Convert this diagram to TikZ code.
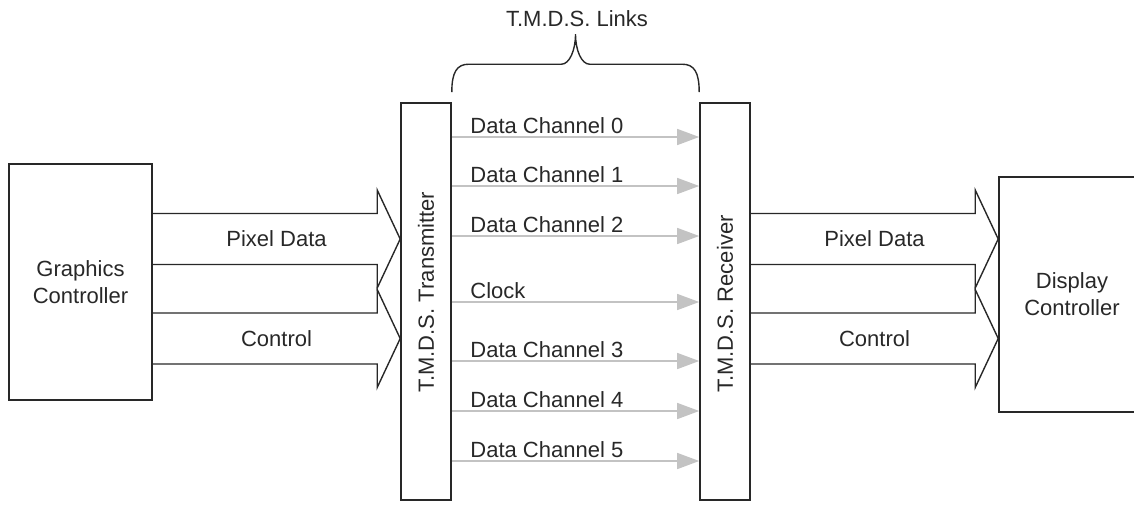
\documentclass[tikz,border=0pt]{standalone}
\usepackage{fontspec}
\setmainfont{Liberation Sans}
\usetikzlibrary{calc,arrows.meta}

\definecolor{ink}{RGB}{40,40,40}
\definecolor{chgray}{RGB}{195,195,195}

\tikzset{
  box/.style={draw=ink, line width=0.8pt, inner sep=0pt, text=ink, font=\fontsize{11}{13.5}\selectfont},
  fat/.style={draw=ink, line width=0.7pt},
  chan/.style={draw=chgray, line width=0.7pt, -{Triangle[length=11pt,width=8pt]}},
  lbl/.style={text=ink, inner sep=0pt, font=\fontsize{11}{13.5}\selectfont},
}

\begin{document}
\begin{tikzpicture}[x=0.5pt, y=-0.5pt]
  \useasboundingbox (0,0) rectangle (1134,504);

  % Blocks
  \node[box, align=center, minimum width=71.5pt, minimum height=118pt] (gc) at (80.5,282) {Graphics\\Controller};
  \node[box, align=center, minimum width=73pt, minimum height=117.5pt] (dc) at (1072,294.5) {Display\\Controller};
  \node[box, minimum width=25pt, minimum height=198.5pt] (tx) at (426,301.5) {};
  \node[box, minimum width=25pt, minimum height=198.5pt] (rx) at (725,301.5) {};
  \node[lbl, rotate=90, anchor=west] (txlbl) at (tx.center |- 0,393) {T.M.D.S. Transmitter};
  \node[lbl, rotate=90, anchor=west] (rxlbl) at (rx.center |- 0,393) {T.M.D.S. Receiver};

  % Pixel data and control buses
  \foreach \from/\to in {gc/tx, rx/dc}{
    \foreach \ym/\txt [count=\i] in {239/Pixel Data, 338.5/Control}{
      \coordinate (tip) at (\to.west |- 0,\ym);
      \coordinate (tail) at (\from.east |- 0,\ym);
      \draw[fat] ($(tail)+(0,-25.5)$) -- ($(tip)+(-23,-25.5)$) -- ($(tip)+(-23,-49)$) -- (tip)
        -- ($(tip)+(-23,49)$) -- ($(tip)+(-23,25.5)$) -- ($(tail)+(0,25.5)$);
      \node[lbl] (\from\i) at ($(tail)!0.5!(tip)$) {\txt};
    }
  }

  % T.M.D.S. channels
  \foreach \y/\txt [count=\i] in {137/Data Channel 0, 186/Data Channel 1, 236/Data Channel 2,
      302/Clock, 361/Data Channel 3, 411/Data Channel 4, 461/Data Channel 5}{
    \draw[chan] (tx.east |- 0,\y) -- (rx.west |- 0,\y);
    \node[lbl, anchor=base west] (ch\i) at (470,\y-4) {\txt};
  }

  % Brace
  \coordinate (bl) at ($(tx.north east)+(0,-10)$);
  \coordinate (br) at ($(rx.north west)+(0,-10)$);
  \coordinate (bt) at ($(bl)!0.5!(br)+(0,-58)$);
  \draw[fat] (bl) .. controls ($(bl)+(0,-20)$) and ($(bl)+(5,-28)$) .. ($(bl)+(17,-28)$)
    -- ($(bt)+(-14,30)$) .. controls ($(bt)+(-6,30)$) and ($(bt)+(0,16)$) .. (bt)
    .. controls ($(bt)+(0,16)$) and ($(bt)+(6,30)$) .. ($(bt)+(14,30)$)
    -- ($(br)+(-17,-28)$) .. controls ($(br)+(-5,-28)$) and ($(br)+(0,-20)$) .. (br);
  \node[lbl, anchor=base] (links) at ($(bt)+(1.5,-8)$) {T.M.D.S. Links};
\end{tikzpicture}
\end{document}
